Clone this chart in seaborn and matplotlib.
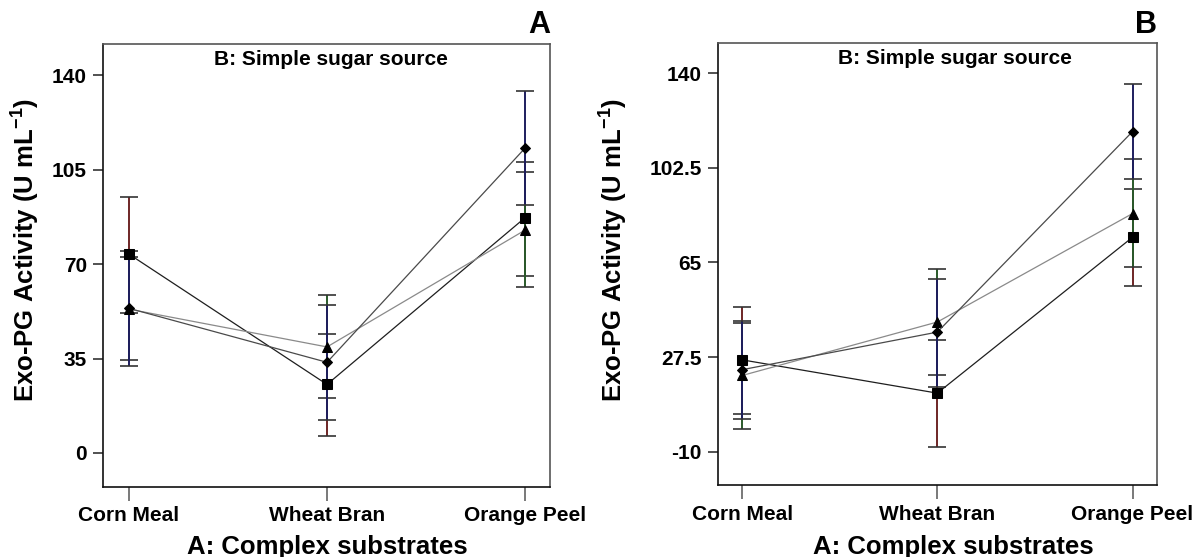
import matplotlib
matplotlib.use('Agg')
import matplotlib.pyplot as plt
import seaborn as sns

substrates = ['Corn Meal', 'Wheat Bran', 'Orange Peel']

# panel A
a_square = [73.7, 25.4, 87.2]
a_square_lo = [52.0, 6.2, 65.6]
a_square_hi = [95.0, 44.2, 107.9]
a_triangle = [53.3, 39.3, 82.6]
a_triangle_lo = [34.4, 20.5, 61.6]
a_triangle_hi = [72.5, 58.5, 104.2]
a_diamond = [53.6, 33.6, 113.0]
a_diamond_lo = [32.3, 12.1, 91.9]
a_diamond_hi = [75.0, 54.9, 134.2]

# panel B
b_square = [26.4, 13.2, 75.0]
b_square_lo = [4.9, -8.0, 55.8]
b_square_hi = [47.4, 34.4, 94.0]
b_triangle = [20.2, 41.4, 84.4]
b_triangle_lo = [-1.0, 20.2, 63.3]
b_triangle_hi = [41.2, 62.6, 106.0]
b_diamond = [22.5, 37.4, 116.9]
b_diamond_lo = [3.1, 15.8, 97.9]
b_diamond_hi = [41.9, 58.5, 135.8]

a_yticks = [0, 35, 70, 105, 140]
a_yticklabels = ['0', '35', '70', '105', '140']
b_yticks = [-10, 27.5, 65, 102.5, 140]
b_yticklabels = ['-10', '27.5', '65', '102.5', '140']

sns.set_style('ticks')
plt.rcParams['font.family'] = ['Liberation Sans', 'DejaVu Sans']
plt.rcParams['font.weight'] = 'bold'
plt.rcParams['text.color'] = 'black'
plt.rcParams['axes.labelcolor'] = 'black'
plt.rcParams['xtick.color'] = 'black'
plt.rcParams['ytick.color'] = 'black'
plt.rcParams['mathtext.fontset'] = 'custom'
plt.rcParams['mathtext.bf'] = 'Liberation Sans:bold'
plt.rcParams['mathtext.rm'] = 'Liberation Sans:bold'
plt.rcParams['mathtext.default'] = 'bf'

fig = plt.figure(figsize=(12.02, 5.57), dpi=100)
axA = fig.add_axes([0.0857, 0.1257, 0.3719, 0.795])
axB = fig.add_axes([0.5973, 0.1284, 0.3652, 0.7944])

styles = {
    'square': dict(marker='s', ms=7.2, line='#1e1e1e', bar='#6e2626'),
    'triangle': dict(marker='^', ms=7.8, line='#8a8a8a', bar='#2a5a2a'),
    'diamond': dict(marker='D', ms=5.6, line='#4a4a4a', bar='#1e1e5e'),
}


def draw(ax, series, yticks, yticklabels, ylim, xlim, sub_x, ylab_xy, xlab_xy):
    for name, (vals, lo, hi) in series.items():
        st = styles[name]
        yerr = [[v - l for v, l in zip(vals, lo)], [h - v for v, h in zip(vals, hi)]]
        eb = ax.errorbar(substrates, vals, yerr=yerr, fmt='none', ecolor=st['bar'],
                         elinewidth=1.4, capsize=6.8, capthick=1.2, zorder=2)
        for cap in eb[1]:
            cap.set_markeredgecolor('#333333')
    for name, (vals, lo, hi) in series.items():
        st = styles[name]
        sns.lineplot(x=substrates, y=vals, sort=False, ax=ax, color=st['line'],
                     linewidth=0.9, marker=st['marker'], markersize=st['ms'],
                     markerfacecolor='black', markeredgecolor='black', zorder=3)
    ax.set_xlim(*xlim)
    ax.set_ylim(*ylim)
    ax.set_yticks(yticks)
    ax.set_yticklabels(yticklabels)
    ax.tick_params(axis='y', length=7.5, width=1.1, pad=4, labelsize=15, color='#222222')
    ax.tick_params(axis='x', length=10, width=1.1, pad=4, labelsize=15, color='#555555')
    for lab in ax.get_xticklabels() + ax.get_yticklabels():
        lab.set_fontweight('bold')
    for side, sp in ax.spines.items():
        sp.set_visible(True)
        sp.set_linewidth(1.2)
        sp.set_color('#111111' if side in ('left', 'bottom') else '#555555')
    ax.set_ylabel('Exo-PG Activity (U mL$^{-1}$)', fontsize=18.5, fontweight='bold')
    ax.set_xlabel('A: Complex substrates', fontsize=18.5, fontweight='bold')
    ax.yaxis.set_label_coords(*ylab_xy)
    ax.xaxis.set_label_coords(*xlab_xy)
    ax.text(sub_x, 0.966, 'B: Simple sugar source', transform=ax.transAxes,
            ha='center', va='center', fontsize=15, fontweight='bold')


draw(axA,
     {'square': (a_square, a_square_lo, a_square_hi),
      'triangle': (a_triangle, a_triangle_lo, a_triangle_hi),
      'diamond': (a_diamond, a_diamond_lo, a_diamond_hi)},
     a_yticks, a_yticklabels, (-12.6, 151.5), (-0.131, 2.126), 0.509,
     (-0.136, 0.535), (0.502, -0.108))

draw(axB,
     {'square': (b_square, b_square_lo, b_square_hi),
      'triangle': (b_triangle, b_triangle_lo, b_triangle_hi),
      'diamond': (b_diamond, b_diamond_lo, b_diamond_hi)},
     b_yticks, b_yticklabels, (-23.4, 152.0), (-0.124, 2.125), 0.54,
     (-0.2, 0.532), (0.537, -0.112))

fig.text(550 / 1202, 1 - 33 / 557, 'A', ha='right', va='baseline', fontsize=22, fontweight='bold')
fig.text(1157 / 1202, 1 - 33 / 557, 'B', ha='right', va='baseline', fontsize=22, fontweight='bold')

fig.savefig('out.png', dpi=100)
